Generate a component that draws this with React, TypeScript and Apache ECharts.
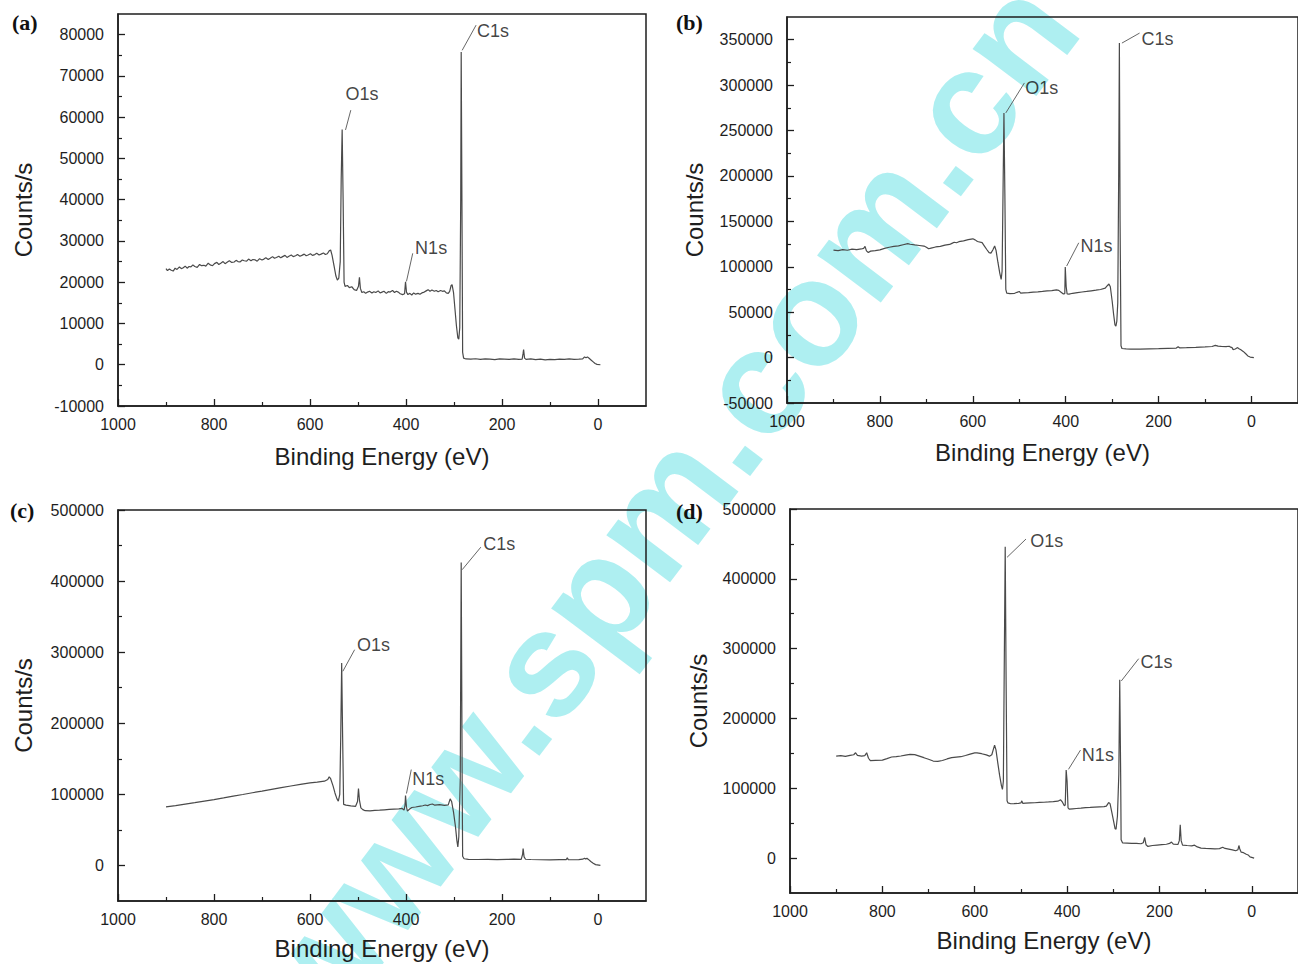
import React, { useEffect, useRef } from "react";
import * as echarts from "echarts";

// ---------- DATA ----------
// Binding energy (eV) vs counts/s
const spectrumA: [number, number][] = [
  [900, 23300], [897, 22800], [893, 23200], [889, 22900], [885, 22700], [881, 23400], [877, 23100], [872, 23700],
  [868, 23300], [864, 23500], [860, 23900], [856, 23400], [852, 23800], [848, 23700], [844, 24200], [840, 23800],
  [835, 23600], [830, 24300], [826, 24000], [821, 24100], [817, 23900], [812, 24600], [808, 24200], [803, 24000],
  [799, 24500], [794, 24800], [790, 24300], [786, 24600], [781, 25000], [777, 24500], [772, 24900], [768, 25200],
  [763, 24800], [758, 24900], [754, 25300], [750, 25000], [746, 24900], [741, 25400], [737, 25200], [732, 25100],
  [728, 25600], [723, 25200], [719, 25500], [714, 25400], [710, 25100], [705, 25700], [700, 25400], [696, 25600],
  [692, 25900], [687, 25500], [683, 25800], [678, 26200], [674, 25800], [670, 26000], [665, 26300], [661, 25900],
  [657, 26200], [652, 26500], [648, 26000], [644, 26300], [639, 26600], [635, 26200], [630, 26400], [626, 26700],
  [621, 26300], [617, 26500], [612, 26800], [608, 26400], [604, 26600], [599, 26900], [595, 26500], [590, 26700],
  [586, 27000], [581, 26600], [577, 26800], [572, 27100], [568, 26700], [564, 26900], [560, 27600], [557, 27800],
  [554, 26500], [550, 24000], [546, 21500], [543, 20500], [540, 21000], [537, 25000], [535, 45000], [533, 57000],
  [531, 40000], [529, 20000], [527, 19000], [522, 19200], [518, 18700], [513, 18900], [508, 18200], [503, 18000],
  [499, 19000], [497, 21200], [495, 18500], [492, 17500], [488, 17700], [484, 17300], [480, 17600], [476, 17800],
  [471, 17400], [467, 17700], [463, 17500], [458, 17900], [454, 17400], [450, 17600], [446, 17800], [441, 17300],
  [437, 17700], [433, 17600], [428, 18000], [424, 17500], [420, 17800], [416, 17600], [412, 17200], [407, 17000],
  [403, 17200], [401, 20100], [399, 17600], [396, 17000], [392, 17300], [388, 16900], [384, 17400], [380, 17100],
  [375, 17300], [371, 17100], [367, 17400], [362, 17600], [358, 17900], [354, 18200], [350, 17800], [346, 18100],
  [341, 17800], [337, 18000], [333, 17700], [328, 18000], [324, 17800], [320, 17900], [316, 17400], [312, 17300],
  [309, 17800], [306, 19200], [304, 19400], [301, 17500], [298, 13500], [295, 9500], [292, 6500], [290, 6200],
  [288, 9000], [286, 40000], [285, 75800], [283.5, 40000], [282, 3000], [280, 1600], [275, 1400], [265, 1350],
  [255, 1450], [245, 1300], [235, 1400], [225, 1350], [215, 1250], [205, 1400], [195, 1350], [185, 1300],
  [175, 1400], [165, 1300], [158, 1350], [156, 2800], [155, 3700], [153, 1600], [150, 1300], [140, 1400],
  [130, 1250], [120, 1350], [110, 1200], [100, 1300], [90, 1250], [80, 1350], [70, 1300], [60, 1400], [50, 1300],
  [40, 1350], [32, 1400], [28, 1900], [25, 1700], [22, 1900], [18, 1500], [14, 1100], [10, 700], [6, 300],
  [2, 100], [-5, 0],
];

const spectrumB: [number, number][] = [
  [900, 118400], [890, 117800], [880, 118900], [870, 118200], [860, 119400], [850, 118800], [840, 119600],
  [835, 120200], [832, 122500], [829, 117500], [825, 115800], [820, 117200], [810, 117800], [800, 118600],
  [790, 120200], [780, 121500], [770, 122500], [760, 123000], [750, 124200], [740, 125400], [735, 124800],
  [725, 124000], [715, 123400], [705, 122800], [700, 121500], [695, 119800], [690, 120500], [680, 121800],
  [670, 122500], [660, 123800], [650, 124600], [645, 125800], [640, 127000], [635, 126400], [630, 127600],
  [620, 128500], [610, 129800], [600, 130800], [595, 129600], [590, 127800], [580, 126500], [575, 122800],
  [570, 119000], [565, 115500], [561, 115000], [557, 118500], [553, 122800], [550, 118000], [546, 105000],
  [542, 93000], [539, 86000], [537, 95000], [535, 180000], [533, 269400], [531, 180000], [529, 75000],
  [527, 71000], [520, 70500], [510, 70800], [500, 72800], [497, 71000], [490, 71200], [480, 71500],
  [470, 72000], [460, 72300], [450, 72800], [440, 73500], [430, 73800], [420, 74500], [415, 74000],
  [410, 72000], [405, 70000], [402, 70500], [401, 99700], [399, 78000], [397, 70000], [393, 69800],
  [385, 70800], [375, 71500], [365, 72200], [355, 72800], [345, 73500], [335, 74200], [325, 75000],
  [315, 76500], [310, 79500], [307, 81000], [304, 78000], [300, 62000], [297, 48000], [294, 36000],
  [292, 34500], [290, 40000], [288, 60000], [286, 200000], [284.5, 346300], [283, 150000], [281, 13000],
  [279, 10000], [270, 9500], [260, 9300], [240, 9400], [220, 9600], [200, 9800], [180, 10200], [162, 10500],
  [158, 12000], [155, 10800], [140, 11000], [120, 11300], [100, 11700], [85, 12200], [78, 13500], [72, 12600],
  [65, 12300], [55, 12000], [48, 12500], [45, 11500], [42, 11000], [40, 8800], [35, 9500], [30, 11000],
  [27, 9800], [23, 8500], [18, 6800], [13, 4500], [8, 1800], [3, 600], [-5, 0],
];

const spectrumC: [number, number][] = [
  [900, 82400], [880, 84200], [860, 86300], [840, 88400], [820, 90600], [800, 92700], [780, 95000],
  [760, 97400], [740, 99800], [720, 102300], [700, 104500], [680, 107000], [660, 109400], [640, 111800],
  [620, 114000], [600, 116200], [585, 117300], [570, 118500], [563, 121000], [560, 124600], [557, 122000],
  [552, 112000], [548, 102000], [544, 94000], [541, 90400], [538, 100000], [536, 180000], [534, 284800],
  [532, 180000], [530, 86000], [525, 84800], [515, 83800], [505, 83200], [501, 90000], [499, 108200],
  [497, 92000], [494, 81000], [490, 78500], [485, 77000], [475, 76800], [465, 77500], [455, 77800],
  [445, 78300], [435, 78800], [425, 79300], [415, 79600], [408, 80200], [404, 77800], [402, 85000],
  [401, 98400], [399, 82000], [397, 76400], [393, 79000], [388, 81500], [380, 82200], [370, 83400],
  [365, 84000], [360, 85000], [355, 84200], [350, 85700], [345, 86500], [340, 84800], [330, 85600],
  [320, 84600], [312, 85200], [308, 93700], [305, 90000], [301, 75000], [297, 55000], [294, 35000],
  [292, 26200], [290, 40000], [287, 120000], [285, 426200], [283, 120000], [282, 13000], [279, 9400],
  [270, 8600], [250, 8400], [230, 8600], [210, 8300], [190, 8600], [175, 8800], [160, 8600], [157, 16000],
  [156, 23900], [154, 12000], [151, 8700], [140, 8400], [120, 8000], [100, 7900], [80, 8200], [70, 8100],
  [66, 8300], [64, 10800], [62, 8200], [50, 8000], [40, 8200], [32, 8800], [28, 10200], [26, 9000],
  [23, 10000], [20, 8500], [15, 5500], [10, 3000], [5, 1200], [-5, 0],
];

const spectrumD: [number, number][] = [
  [900, 146100], [890, 146800], [880, 145600], [870, 147200], [862, 148000], [858, 150900], [854, 147000],
  [845, 146000], [838, 146800], [834, 150900], [830, 143000], [826, 139500], [815, 140000], [800, 140400],
  [790, 142500], [780, 144800], [770, 145400], [760, 146200], [750, 147500], [740, 148500], [730, 148200],
  [720, 146000], [710, 143800], [700, 141500], [690, 139000], [680, 138500], [670, 139800], [660, 142000],
  [650, 143800], [640, 144600], [630, 145200], [620, 147000], [610, 149000], [600, 150600], [595, 150800],
  [585, 149500], [575, 147800], [568, 146000], [563, 148000], [560, 155000], [557, 161800], [554, 155000],
  [550, 136000], [546, 118000], [542, 103000], [540, 98500], [538, 110000], [536, 280000], [534, 446000],
  [532, 250000], [530, 82000], [528, 79000], [522, 77800], [515, 78000], [505, 78500], [500, 79000],
  [498, 82000], [496, 78500], [490, 78700], [480, 79000], [470, 79300], [460, 79800], [450, 80000],
  [440, 80400], [430, 80900], [420, 81500], [414, 83500], [410, 80000], [406, 75000], [404, 76000],
  [402, 126100], [400, 110000], [398, 72000], [395, 70000], [388, 70500], [380, 71000], [370, 71500],
  [360, 72200], [350, 72500], [340, 73000], [330, 73400], [320, 73800], [315, 74500], [310, 79500],
  [307, 78000], [303, 65000], [299, 52000], [296, 42000], [294, 41400], [291, 60000], [288, 120000],
  [286, 255600], [284, 120000], [283, 26200], [280, 21800], [270, 21500], [260, 21000], [250, 21200],
  [240, 20500], [235, 22000], [232, 29500], [229, 19000], [225, 16700], [215, 18000], [205, 18600],
  [195, 19200], [185, 19800], [178, 21000], [174, 23000], [170, 20000], [160, 19500], [157, 25000],
  [155, 47600], [153, 25000], [150, 18500], [140, 18000], [130, 17600], [124, 18500], [118, 16000],
  [110, 14200], [100, 13800], [90, 13500], [80, 13200], [70, 13600], [63, 15500], [58, 13800], [50, 12800],
  [42, 11800], [35, 10500], [30, 12000], [28, 18000], [26, 13000], [23, 8500], [18, 7800], [12, 5500],
  [8, 4500], [4, 1800], [-5, 0],
];

// Peak labels: [energy, counts, text]  (anchor = left/middle of the text)
const labelsA: [number, number, string][] = [[526, 65700, "O1s"], [252, 80900, "C1s"], [381, 28200, "N1s"]];
const labelsB: [number, number, string][] = [[487, 296900, "O1s"], [237, 350700, "C1s"], [368, 122800, "N1s"]];
const labelsC: [number, number, string][] = [[502, 310600, "O1s"], [239, 452500, "C1s"], [387, 121800, "N1s"]];
const labelsD: [number, number, string][] = [[480, 454600, "O1s"], [241, 280800, "C1s"], [368, 147600, "N1s"]];

// Leader lines: [E1, v1, E2, v2]
const leadersA: number[][] = [[526, 56900, 515, 61700], [283, 76200, 254, 82300], [399, 20200, 386, 27000]];
const leadersB: number[][] = [[529, 269400, 489, 302400], [279, 346300, 241, 357300], [398, 100800, 372, 126400]];
const leadersC: number[][] = [[531.6, 273100, 507, 303500], [283, 416000, 244, 447800], [399, 101200, 389, 134900]];
const leadersD: number[][] = [[530, 430800, 489, 457000], [282.6, 253700, 245, 285600], [397, 127100, 371, 154700]];

const xTicks = [0, 200, 400, 600, 800, 1000];
const xMinorTicks = [100, 300, 500, 700, 900];
const yTicksA = [-10000, 0, 10000, 20000, 30000, 40000, 50000, 60000, 70000, 80000];
const yMinorA = [-5000, 5000, 15000, 25000, 35000, 45000, 55000, 65000, 75000];
const yTicksB = [-50000, 0, 50000, 100000, 150000, 200000, 250000, 300000, 350000];
const yMinorB = [-25000, 25000, 75000, 125000, 175000, 225000, 275000, 325000];
const yTicksCD = [0, 100000, 200000, 300000, 400000, 500000];
const yMinorCD = [50000, 150000, 250000, 350000, 450000];

const panelLetters = ["(a)", "(b)", "(c)", "(d)"];
const xTitle = "Binding Energy (eV)";
const yTitle = "Counts/s";
const watermarkText = "www.spm.com.cn";

// ---------- LAYOUT ----------
const FONT = '"Liberation Sans", Arial, Helvetica, sans-serif';
const SERIF = '"Liberation Serif", "Times New Roman", serif';
const INK = "#1e1e1e";

const panels = [
  { grid: { left: 118, top: 14, width: 528, height: 392 }, yMin: -10000, yMax: 85000, yTicks: yTicksA, yMinor: yMinorA, data: spectrumA, labels: labelsA, leaders: leadersA, yGap: 83, xGap: 38, letter: [12, 22] },
  { grid: { left: 787, top: 17, width: 519, height: 386 }, yMin: -50000, yMax: 375000, yTicks: yTicksB, yMinor: yMinorB, data: spectrumB, labels: labelsB, leaders: leadersB, yGap: 81, xGap: 37, letter: [676, 22] },
  { grid: { left: 118, top: 510, width: 528, height: 391 }, yMin: -50000, yMax: 500000, yTicks: yTicksCD, yMinor: yMinorCD, data: spectrumC, labels: labelsC, leaders: leadersC, yGap: 83, xGap: 35, letter: [10, 510] },
  { grid: { left: 790, top: 509, width: 516, height: 384 }, yMin: -50000, yMax: 500000, yTicks: yTicksCD, yMinor: yMinorCD, data: spectrumD, labels: labelsD, leaders: leadersD, yGap: 80, xGap: 35, letter: [676, 511] },
];

const plain = (v: number) => String(v);

function buildOption() {
  const grid: any[] = [];
  const xAxis: any[] = [];
  const yAxis: any[] = [];
  const series: any[] = [];
  const graphic: any[] = [];

  graphic.push({
    type: "text",
    x: 664,
    y: 504,
    rotation: (53 * Math.PI) / 180,
    z: -10,
    silent: true,
    style: {
      text: watermarkText,
      font: `bold 150px ${FONT}`,
      fill: "#aeeff1",
      textAlign: "center",
      textVerticalAlign: "middle",
    },
  });

  panels.forEach((p, i) => {
    grid.push({ ...p.grid, show: true, borderColor: INK, borderWidth: 1.5, backgroundColor: "transparent", z: 3 });
    const baseX = {
      type: "value",
      gridIndex: i,
      inverse: true,
      min: -100,
      max: 1000,
      position: "bottom",
      splitLine: { show: false },
    };
    xAxis.push({
      ...baseX,
      name: xTitle,
      nameLocation: "middle",
      nameGap: p.xGap,
      nameTextStyle: { fontFamily: FONT, fontSize: 24, color: INK },
      axisLine: { show: true, onZero: false, lineStyle: { color: INK, width: 1.5 } },
      axisTick: { show: true, inside: true, length: 7, customValues: xTicks, lineStyle: { color: INK, width: 1.3 } },
      axisLabel: { show: true, customValues: xTicks, formatter: plain, margin: 10, fontFamily: FONT, fontSize: 16, color: INK },
    });
    xAxis.push({
      ...baseX,
      axisLine: { show: false, onZero: false },
      axisTick: { show: true, inside: true, length: 4, customValues: xMinorTicks, lineStyle: { color: INK, width: 1.2 } },
      axisLabel: { show: false },
    });
    const baseY = {
      type: "value",
      gridIndex: i,
      min: p.yMin,
      max: p.yMax,
      position: "left",
      splitLine: { show: false },
    };
    yAxis.push({
      ...baseY,
      name: yTitle,
      nameLocation: "middle",
      nameGap: p.yGap,
      nameTextStyle: { fontFamily: FONT, fontSize: 24, color: INK },
      axisLine: { show: true, onZero: false, lineStyle: { color: INK, width: 1.5 } },
      axisTick: { show: true, inside: true, length: 7, customValues: p.yTicks, lineStyle: { color: INK, width: 1.3 } },
      axisLabel: { show: true, customValues: p.yTicks, formatter: plain, margin: 14, fontFamily: FONT, fontSize: 16, color: INK },
    });
    yAxis.push({
      ...baseY,
      axisLine: { show: false, onZero: false },
      axisTick: { show: true, inside: true, length: 4, customValues: p.yMinor, lineStyle: { color: INK, width: 1.2 } },
      axisLabel: { show: false },
    });

    series.push({
      type: "line",
      xAxisIndex: 2 * i,
      yAxisIndex: 2 * i,
      data: p.data,
      showSymbol: false,
      symbol: "none",
      silent: true,
      lineStyle: { color: "#4a4a4a", width: 1.2 },
      z: 4,
    });

    series.push({
      type: "scatter",
      xAxisIndex: 2 * i,
      yAxisIndex: 2 * i,
      symbolSize: 0,
      silent: true,
      data: p.labels.map((l) => ({ value: [l[0], l[1]], name: l[2] })),
      label: {
        show: true,
        position: "right",
        distance: 0,
        formatter: "{b}",
        fontFamily: FONT,
        fontSize: 18,
        color: "#111",
      },
      markLine: {
        silent: true,
        symbol: ["none", "none"],
        label: { show: false },
        lineStyle: { color: "#555", width: 0.9, type: "solid" },
        emphasis: { disabled: true },
        data: p.leaders.map((d) => [{ coord: [d[0], d[1]] }, { coord: [d[2], d[3]] }]),
      },
      z: 5,
    });

    graphic.push({
      type: "text",
      x: p.letter[0],
      y: p.letter[1],
      z: 10,
      style: {
        text: panelLetters[i],
        font: `bold 22px ${SERIF}`,
        fill: "#111",
        textVerticalAlign: "middle",
      },
    });
  });

  return { animation: false, backgroundColor: "#fff", grid, xAxis, yAxis, series, graphic };
}

export default function App() {
  const ref = useRef<HTMLDivElement>(null);
  useEffect(() => {
    document.body.style.margin = "0";
    if (!ref.current) return;
    const chart = echarts.init(ref.current, undefined, { renderer: "svg" });
    chart.setOption(buildOption() as any);
    return () => chart.dispose();
  }, []);
  return (
    <div
      ref={ref}
      style={{ position: "absolute", left: 0, top: 0, width: 1298, height: 964, overflow: "hidden" }}
    />
  );
}
